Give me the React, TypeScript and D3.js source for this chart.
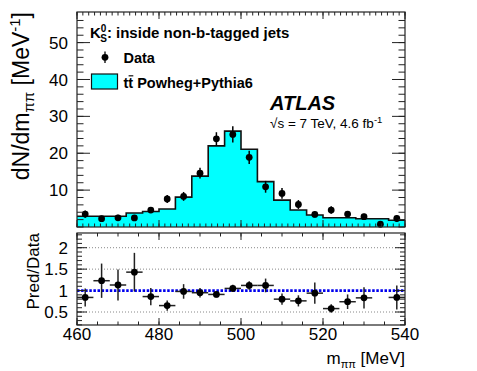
import React, { useEffect, useRef } from "react";
import * as d3 from "d3";

// bin edges of the m_pipi histogram [MeV]
const binEdges = [460, 464, 468, 472, 476, 480, 484, 488, 492, 496, 500, 504, 508, 512, 516, 520, 524, 528, 532, 536, 540];
// ttbar Powheg+Pythia6 prediction per bin
const predicted = [2.9, 2.9, 2.9, 3.8, 4.2, 4.9, 8.1, 13.8, 22.0, 26.0, 21.1, 12.3, 7.3, 4.6, 3.25, 2.5, 2.5, 2.25, 2.25, 1.85];
// data points and their errors
const dataVals = [3.5, 2.25, 2.5, 2.45, 4.6, 7.6, 8.3, 14.6, 23.9, 25.1, 18.9, 10.9, 9.1, 6.1, 3.4, 4.6, 3.5, 2.8, 0.75, 2.3];
const dataErr = [1.0, 0.8, 0.8, 0.8, 0.8, 1.1, 1.2, 1.45, 1.8, 2.2, 1.8, 1.6, 1.45, 1.2, 0.8, 1.0, 0.8, 0.8, 0.5, 0.8];
// Pred/Data ratio (bin 19 is off scale)
const ratioVals = [0.84, 1.23, 1.13, 1.43, 0.86, 0.65, 0.98, 0.95, 0.91, 1.05, 1.12, 1.12, 0.8, 0.76, 0.94, 0.58, 0.74, 0.83, null, 0.84];
const ratioErr = [0.21, 0.4, 0.36, 0.45, 0.2, 0.12, 0.17, 0.11, 0.07, 0.085, 0.1, 0.16, 0.13, 0.13, 0.25, 0.1, 0.17, 0.25, 0, 0.28];

const xTicks = [460, 480, 500, 520, 540];
const yTicks = [10, 20, 30, 40, 50];
const ratioTicks = [0.5, 1, 1.5, 2];
const ratioGrid = [0.5, 1.5, 2];

const W = 477;
const H = 371;
const FONT = "'Liberation Sans', Arial, Helvetica, sans-serif";

export default function App() {
  const svgRef = useRef<SVGSVGElement>(null);

  useEffect(() => {
    const svg = d3.select(svgRef.current);
    svg.selectAll("*").remove();
    svg.style("font-family", FONT);

    const left = 77, right = 405;
    const top1 = 12, bot1 = 227;
    const top2 = 233, bot2 = 325;

    const x = d3.scaleLinear().domain([460, 540]).range([left, right]);
    const y = d3.scaleLinear().domain([0, 58.3]).range([bot1, top1]);
    const yr = d3.scaleLinear().domain([0.197, 2.343]).range([bot2, top2]);

    const centers = binEdges.slice(0, -1).map((e, i) => (e + binEdges[i + 1]) / 2);

    // ---------- top panel ----------
    const histVals = [...predicted, predicted[predicted.length - 1]];
    const area = d3.area<number>()
      .x((_, i) => x(binEdges[i]))
      .y0(y(0))
      .y1(d => y(d))
      .curve(d3.curveStepAfter);
    const line = d3.line<number>()
      .x((_, i) => x(binEdges[i]))
      .y(d => y(d))
      .curve(d3.curveStepAfter);

    svg.append("path").attr("d", area(histVals)).attr("fill", "#00ffff");
    svg.append("path").attr("d", line(histVals))
      .attr("fill", "none").attr("stroke", "#111").attr("stroke-width", 1.6);

    const pts = svg.append("g");
    dataVals.forEach((v, i) => {
      pts.append("line")
        .attr("x1", x(centers[i])).attr("x2", x(centers[i]))
        .attr("y1", y(v - dataErr[i])).attr("y2", y(v + dataErr[i]))
        .attr("stroke", "#000").attr("stroke-width", 1.5);
      pts.append("circle")
        .attr("cx", x(centers[i])).attr("cy", y(v)).attr("r", 3.4).attr("fill", "#000");
    });

    // ticks, top panel
    const g1 = svg.append("g");
    const xMinor1 = d3.range(460, 540.01, 20 / 14);
    const yMinor1 = d3.range(0, 58, 2);
    const tick = (g: any, x1: number, y1: number, x2: number, y2: number, w = 1) =>
      g.append("line").attr("x1", x1).attr("y1", y1).attr("x2", x2).attr("y2", y2)
        .attr("stroke", "#222").attr("stroke-width", w);

    xMinor1.forEach(v => { tick(g1, x(v), bot1, x(v), bot1 - 3.5); tick(g1, x(v), top1, x(v), top1 + 3.5); });
    xTicks.forEach(v => { tick(g1, x(v), bot1, x(v), bot1 - 7); tick(g1, x(v), top1, x(v), top1 + 7); });
    yMinor1.forEach(v => { tick(g1, left, y(v), left + 6.5, y(v)); tick(g1, right, y(v), right - 6.5, y(v)); });
    yTicks.forEach(v => { tick(g1, left, y(v), left + 13, y(v)); tick(g1, right, y(v), right - 13, y(v)); });

    svg.append("rect").attr("x", left).attr("y", top1).attr("width", right - left).attr("height", bot1 - top1)
      .attr("fill", "none").attr("stroke", "#222").attr("stroke-width", 1.2);

    svg.append("g").selectAll("text").data(yTicks).enter().append("text")
      .attr("x", 68).attr("y", d => y(d)).attr("dy", "0.36em")
      .attr("text-anchor", "end").style("font-size", "17px").text(d => d);

    // y title
    const yt = svg.append("text")
      .attr("transform", `translate(29,${top1}) rotate(-90)`)
      .attr("text-anchor", "end").style("font-size", "23px");
    yt.append("tspan").text("dN/dm");
    yt.append("tspan").attr("dy", 5).style("font-size", "15px").text("ππ");
    yt.append("tspan").attr("dy", -5).text(" [MeV");
    yt.append("tspan").attr("dy", -9).style("font-size", "15px").text("-1");
    yt.append("tspan").attr("dy", 9).text("]");

    // legend
    const lt = svg.append("text").attr("x", 90).attr("y", 38).style("font-size", "15px").style("font-weight", "bold");
    lt.append("tspan").text("K");
    lt.append("tspan").attr("dy", -6).style("font-size", "10px").text("0");
    lt.append("tspan").attr("dx", -6.2).attr("dy", 10).style("font-size", "10px").text("S");
    lt.append("tspan").attr("dy", -4).text(": inside non-b-tagged jets");

    tick(svg, 105, 51.5, 105, 63, 1.5);
    svg.append("circle").attr("cx", 105).attr("cy", 57.3).attr("r", 3.4).attr("fill", "#000");
    svg.append("text").attr("x", 123.5).attr("y", 62.5).style("font-size", "14.5px").style("font-weight", "bold").text("Data");

    svg.append("rect").attr("x", 91.5).attr("y", 74).attr("width", 26).attr("height", 15)
      .attr("fill", "#00ffff").attr("stroke", "#111").attr("stroke-width", 1.2);
    svg.append("text").attr("x", 123.5).attr("y", 87.5).style("font-size", "14.5px").style("font-weight", "bold")
      .text("tt Powheg+Pythia6");
    tick(svg, 128.6, 75.8, 133.3, 75.8, 1.3);

    svg.append("text").attr("x", 270).attr("y", 110).style("font-size", "20px")
      .style("font-weight", "bold").style("font-style", "italic").text("ATLAS");
    const st = svg.append("text").attr("x", 270).attr("y", 128).style("font-size", "13.5px");
    st.append("tspan").text("√s = 7 TeV, 4.6 fb");
    st.append("tspan").attr("dy", -5).style("font-size", "9.5px").text("-1");

    // ---------- ratio panel ----------
    const g2 = svg.append("g");
    ratioGrid.forEach(v => {
      g2.append("line").attr("x1", left).attr("x2", right).attr("y1", yr(v)).attr("y2", yr(v))
        .attr("stroke", "#888").attr("stroke-width", 1).attr("stroke-dasharray", "1,2");
    });
    g2.append("line").attr("x1", left).attr("x2", right).attr("y1", yr(1)).attr("y2", yr(1))
      .attr("stroke", "#0000ee").attr("stroke-width", 2.6).attr("stroke-dasharray", "2.5,1.6");

    ratioVals.forEach((v, i) => {
      if (v === null) return;
      const cx = x(centers[i]);
      tick(g2, x(binEdges[i]), yr(v), x(binEdges[i + 1]), yr(v), 1.5);
      tick(g2, cx, yr(v - ratioErr[i]), cx, yr(v + ratioErr[i]), 1.5);
      g2.append("circle").attr("cx", cx).attr("cy", yr(v)).attr("r", 3.4).attr("fill", "#000");
    });

    const xMinor2 = d3.range(460, 540.01, 5);
    const yMinor2 = d3.range(0.2, 2.341, 0.1);
    xMinor2.forEach(v => { tick(g2, x(v), bot2, x(v), bot2 - 3.5); tick(g2, x(v), top2, x(v), top2 + 3.5); });
    xTicks.forEach(v => { tick(g2, x(v), bot2, x(v), bot2 - 7); tick(g2, x(v), top2, x(v), top2 + 7); });
    yMinor2.forEach(v => { tick(g2, left, yr(v), left + 5, yr(v)); tick(g2, right, yr(v), right - 5, yr(v)); });
    ratioTicks.forEach(v => { tick(g2, left, yr(v), left + 10, yr(v)); tick(g2, right, yr(v), right - 10, yr(v)); });

    svg.append("rect").attr("x", left).attr("y", top2).attr("width", right - left).attr("height", bot2 - top2)
      .attr("fill", "none").attr("stroke", "#222").attr("stroke-width", 1.2);

    svg.append("g").selectAll("text").data(ratioTicks).enter().append("text")
      .attr("x", 68).attr("y", d => yr(d)).attr("dy", "0.36em")
      .attr("text-anchor", "end").style("font-size", "17px").text(d => d);

    svg.append("g").selectAll("text").data(xTicks).enter().append("text")
      .attr("x", d => x(d)).attr("y", 340)
      .attr("text-anchor", "middle").style("font-size", "17px").text(d => d);

    svg.append("text")
      .attr("transform", `translate(39,${top2}) rotate(-90)`)
      .attr("text-anchor", "end").style("font-size", "17px").text("Pred/Data");

    const xt = svg.append("text").attr("x", right).attr("y", 364)
      .attr("text-anchor", "end").style("font-size", "17px");
    xt.append("tspan").text("m");
    xt.append("tspan").attr("dy", 4).style("font-size", "11px").text("ππ");
    xt.append("tspan").attr("dy", -4).text(" [MeV]");
  }, []);

  return (
    <svg ref={svgRef} width={W} height={H}
      style={{ position: "absolute", left: 0, top: 0, background: "#fff" }} />
  );
}
